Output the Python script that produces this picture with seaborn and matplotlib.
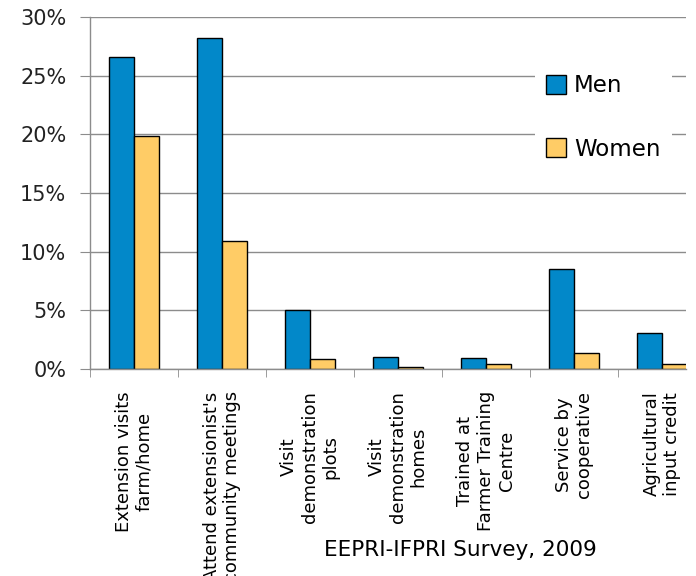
import seaborn as sns
import matplotlib.pyplot as plt
import pandas as pd
from matplotlib.ticker import PercentFormatter

# Data (percent of respondents)
categories = [
    "Extension visits\nfarm/home",
    "Attend extensionist's\ncommunity meetings",
    "Visit\ndemonstration\nplots",
    "Visit\ndemonstration\nhomes",
    "Trained at\nFarmer Training\nCentre",
    "Service by\ncooperative",
    "Agricultural\ninput credit",
]
men = [26.6, 28.2, 5.0, 1.05, 0.95, 8.55, 3.1]
women = [19.9, 10.9, 0.85, 0.2, 0.45, 1.4, 0.4]
series = ["Men", "Women"]
colors = ["#0288C9", "#FFCC66"]

df = pd.DataFrame({
    "category": categories * 2,
    "value": men + women,
    "group": ["Men"] * len(men) + ["Women"] * len(women),
})

fig = plt.figure(figsize=(6.96, 5.76), dpi=100)
ax = fig.add_axes([90 / 696, 1 - 369 / 576, (686 - 90) / 696, (369 - 17) / 576])

sns.barplot(data=df, x="category", y="value", hue="group", hue_order=series,
            palette=colors, saturation=1, width=0.57, gap=0,
            edgecolor="black", linewidth=1, ax=ax, legend=True)

ax.set_yticks(range(0, 31, 5))
ax.yaxis.set_major_formatter(PercentFormatter(decimals=0))
ax.grid(axis="y", color="#8c8c8c", linewidth=1)
ax.set_axisbelow(True)

for s in ["top", "right"]:
    ax.spines[s].set_visible(False)
for s in ["left", "bottom"]:
    ax.spines[s].set_color("#8c8c8c")
    ax.spines[s].set_linewidth(1)

ax.tick_params(axis="y", length=7, color="#8c8c8c", labelsize=15, pad=10,
               labelcolor="#222222")
ax.set_xticks(range(len(categories)))
ax.set_xticklabels(categories, rotation=90, ha="center", va="top",
                   multialignment="center", fontsize=13)
ax.tick_params(axis="x", length=0, pad=16)
ax.set_xticks([i - 0.5 for i in range(len(categories) + 1)], minor=True)
ax.tick_params(axis="x", which="minor", length=6, color="#8c8c8c")
ax.set_xlabel("")
ax.set_ylabel("")
ax.set_ylim(0, 30)
ax.set_xlim(-0.5, -0.5 + (686 - 90) / 88.0)

leg = ax.legend(loc="upper left", bbox_to_anchor=((535 - 90) / 596, 1 - 46 / 352),
                frameon=True, fancybox=False, edgecolor="none", facecolor="white",
                framealpha=1, fontsize=16.5, handlelength=0.85, handleheight=0.85,
                handletextpad=0.35, labelspacing=1.75, borderpad=0.5,
                borderaxespad=0)
for h in leg.legend_handles:
    h.set_edgecolor("black")

fig.text(460 / 696, 1 - 556 / 576, "EEPRI-IFPRI Survey, 2009", ha="center",
         va="baseline", fontsize=15.5)

fig.savefig("out.png", dpi=100)
